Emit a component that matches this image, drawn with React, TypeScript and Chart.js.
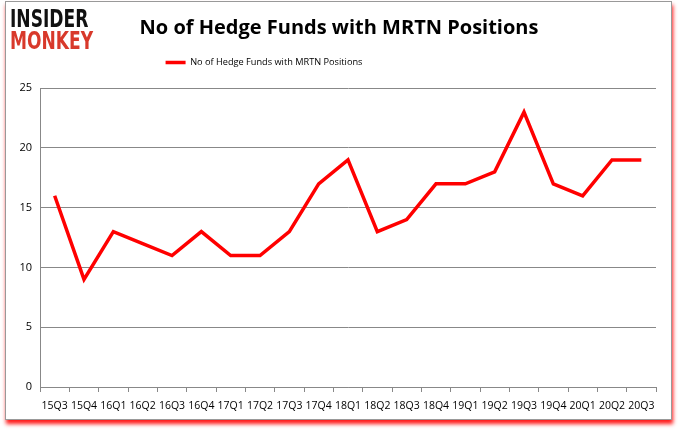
import React, { useEffect, useRef } from 'react';
import { Chart, registerables } from 'chart.js';

Chart.register(...registerables);

const categories = ['15Q3', '15Q4', '16Q1', '16Q2', '16Q3', '16Q4', '17Q1', '17Q2', '17Q3', '17Q4', '18Q1', '18Q2', '18Q3', '18Q4', '19Q1', '19Q2', '19Q3', '19Q4', '20Q1', '20Q2', '20Q3'];
const hedgeFundCounts = [16, 9, 13, 12, 11, 13, 11, 11, 13, 17, 19, 13, 14, 17, 17, 18, 23, 17, 16, 19, 19];
const seriesLabel = 'No of Hedge Funds with MRTN Positions';
const chartTitle = 'No of Hedge Funds with MRTN Positions';
const yMin = 0;
const yMax = 25;
const yStep = 5;

const shiftPlugin = {
  id: 'shiftBoxes',
  afterLayout(chart: any) {
    const t = chart.titleBlock;
    if (t) {
      t.left += 11;
      t.right += 11;
    }
    const l = chart.legend;
    if (l) {
      l.left -= 64;
      l.right -= 64;
      l.top -= 11;
      l.bottom -= 11;
    }
  },
};

export default function App() {
  const canvasRef = useRef<HTMLCanvasElement | null>(null);

  useEffect(() => {
    if (!canvasRef.current) return;
    const chart = new Chart(canvasRef.current, {
      type: 'line',
      data: {
        labels: categories,
        datasets: [
          {
            label: seriesLabel,
            data: hedgeFundCounts,
            borderColor: '#ff0000',
            backgroundColor: '#ff0000',
            borderWidth: 3.5,
            pointRadius: 0,
            tension: 0,
          },
        ],
      },
      plugins: [shiftPlugin],
      options: {
        animation: false,
        responsive: false,
        devicePixelRatio: 1,
        layout: { padding: { top: 4, left: 0, right: 22, bottom: 10 } },
        plugins: {
          title: {
            display: true,
            text: chartTitle,
            color: '#000',
            font: { family: 'Open Sans', size: 20, weight: 'bold' },
            padding: { top: 12, bottom: 17 },
          },
          legend: {
            display: true,
            labels: {
              usePointStyle: true,
              pointStyle: 'line',
              pointStyleWidth: 20,
              boxWidth: 20,
              boxHeight: 8,
              color: '#000',
              font: { family: 'Open Sans', size: 9.2 },
              padding: 12,
            },
          },
          tooltip: { enabled: false },
        },
        scales: {
          x: {
            offset: true,
            grid: {
              display: true,
              drawOnChartArea: false,
              drawTicks: true,
              tickLength: 5,
              color: '#888',
              offset: true,
            },
            border: { display: true, color: '#888' },
            ticks: {
              autoSkip: false,
              maxRotation: 0,
              minRotation: 0,
              color: '#000',
              font: { family: 'Open Sans', size: 10.5 },
              padding: 8,
            },
            afterFit: (scale: any) => {
              scale.height = 34;
            },
          },
          y: {
            min: yMin,
            max: yMax,
            grid: { color: '#888', drawTicks: false },
            border: { display: true, color: '#888' },
            ticks: {
              stepSize: yStep,
              color: '#000',
              font: { family: 'Open Sans', size: 11 },
              padding: 8,
            },
            afterFit: (scale: any) => {
              scale.width = 40;
            },
          },
        },
      },
    });
    return () => chart.destroy();
  }, []);

  return (
    <div style={{ position: 'absolute', left: 0, top: 0, width: 678, height: 431, background: '#fff', overflow: 'hidden' }}>
      <div
        style={{
          position: 'absolute',
          left: 5,
          top: 1,
          width: 665,
          height: 417,
          border: '1px solid #999',
          boxShadow: '1px 4px 4px rgba(255,0,0,0.9)',
        }}
      />
      <canvas ref={canvasRef} width={678} height={431} style={{ position: 'absolute', left: 0, top: 0 }} />
      <div
        style={{
          position: 'absolute',
          left: 10,
          top: 8,
          fontFamily: 'DejaVu Sans Condensed, DejaVu Sans',
          fontWeight: 900,
          fontSize: 25,
          lineHeight: '22px',
          transform: 'scaleX(0.76)',
          transformOrigin: 'left top',
          whiteSpace: 'nowrap',
        }}
      >
        <div style={{ color: '#111' }}>INSIDER</div>
        <div style={{ color: '#d8392b' }}>MONKEY</div>
      </div>
    </div>
  );
}
